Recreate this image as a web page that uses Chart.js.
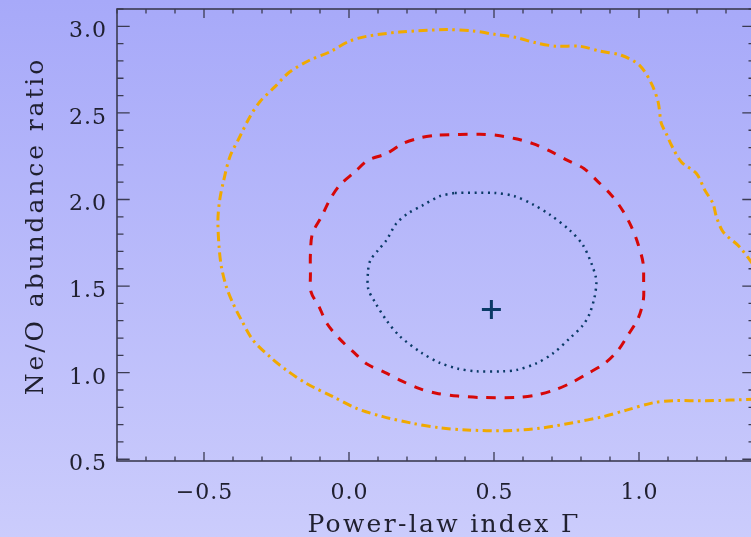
<!DOCTYPE html>
<html><head><meta charset="utf-8">
<script src="https://cdn.jsdelivr.net/npm/chart.js@4/dist/chart.umd.min.js"></script>
<style>
html,body{margin:0;padding:0;width:751px;height:537px;overflow:hidden;background:#b8b9fa;}
#wrap{width:760px;height:537px;}
canvas{display:block;}
</style></head><body>
<div id="wrap"><canvas id="c" width="760" height="537"></canvas></div>
<script>
// ---- axis ticks / labels ----
const xTickValues = [-0.5, 0.0, 0.5, 1.0];
const xTickLabels = ['\u22120.5', '0.0', '0.5', '1.0'];
const yTickValues = [0.5, 1.0, 1.5, 2.0, 2.5, 3.0];
const yTickLabels = ['0.5', '1.0', '1.5', '2.0', '2.5', '3.0'];
const xTitle = 'Power-law index \u0393';
const yTitle = 'Ne/O abundance ratio';

// ---- inner contour (dotted) ----
const innerGamma = [0.365,0.502,0.571,0.635,0.692,0.761,0.807,0.836,0.851,0.853,0.847,0.830,0.807,0.761,0.703,0.646,0.577,0.531,0.439,0.376,0.313,0.250,0.175,0.129,0.089,0.066,0.066,0.074,0.100,0.129,0.163,0.203,0.255,0.313,0.365];
const innerNeO   = [2.038,2.038,2.019,1.971,1.913,1.823,1.736,1.631,1.553,1.515,1.438,1.342,1.275,1.198,1.111,1.054,1.015,1.008,1.008,1.023,1.057,1.115,1.211,1.303,1.409,1.486,1.592,1.650,1.707,1.765,1.861,1.919,1.967,2.019,2.038];

// ---- middle contour (dashed) ----
const middleGamma = [0.313,0.451,0.508,0.571,0.634,0.694,0.752,0.810,0.859,0.905,0.943,0.974,0.997,1.014,1.016,1.015,0.997,0.962,0.928,0.882,0.824,0.767,0.709,0.646,0.577,0.451,0.376,0.301,0.241,0.181,0.123,0.062,0.014,-0.034,-0.076,-0.103,-0.131,-0.133,-0.133,-0.126,-0.095,-0.067,-0.032,0.020,0.066,0.129,0.186,0.250,0.313];
const middleNeO   = [2.373,2.377,2.371,2.352,2.323,2.279,2.227,2.179,2.102,2.025,1.938,1.842,1.742,1.634,1.525,1.419,1.313,1.217,1.130,1.054,0.996,0.942,0.900,0.871,0.857,0.857,0.865,0.881,0.909,0.953,1.002,1.050,1.121,1.198,1.284,1.380,1.467,1.573,1.688,1.804,1.900,1.996,2.083,2.159,2.227,2.265,2.323,2.358,2.373];

// ---- outer contour (dash-dot) ----
const outerGamma = [1.40,1.232,1.117,1.048,0.957,0.876,0.772,0.658,0.543,0.405,0.313,0.221,0.117,0.026,-0.055,-0.147,-0.216,-0.273,-0.331,-0.371,-0.400,-0.423,-0.440,-0.448,-0.452,-0.446,-0.432,-0.411,-0.377,-0.342,-0.308,-0.256,-0.205,-0.136,-0.067,0.002,0.060,0.175,0.336,0.428,0.502,0.577,0.646,0.715,0.796,0.864,0.939,1.002,1.043,1.066,1.077,1.094,1.112,1.146,1.198,1.227,1.255,1.267,1.290,1.347,1.40];
const outerNeO   = [0.846,0.838,0.838,0.826,0.784,0.746,0.711,0.679,0.665,0.669,0.682,0.707,0.746,0.794,0.861,0.938,1.015,1.092,1.188,1.304,1.400,1.496,1.611,1.726,1.881,1.996,2.111,2.246,2.361,2.477,2.563,2.650,2.736,2.804,2.852,2.915,2.942,2.967,2.981,2.973,2.954,2.935,2.904,2.885,2.885,2.857,2.833,2.775,2.669,2.563,2.439,2.381,2.313,2.217,2.150,2.054,1.977,1.900,1.813,1.726,1.610];

// ---- best fit ----
const bestGamma = [0.491];
const bestNeO = [1.365];

const pts = (xs, ys) => xs.map((x, i) => ({x: x, y: ys[i]}));

const FONT = '"DejaVu Serif", serif';
const AXIS_COLOR = '#3b3b52';
const TEXT_COLOR = '#202030';

const bgPlugin = {
  id: 'bg',
  beforeDraw(chart) {
    const c = chart.ctx;
    const g = c.createLinearGradient(0, 0, 0, chart.height);
    g.addColorStop(0, '#a7a9f9');
    g.addColorStop(1, '#cbccfc');
    c.save();
    c.fillStyle = g;
    c.fillRect(0, 0, chart.width, chart.height);
    c.restore();
  }
};

function minorValues(min, max, step) {
  const out = [];
  const s = Math.ceil(min / step - 1e-9);
  for (let k = s; k * step <= max + 1e-9; k++) out.push(+(k * step).toFixed(6));
  return out;
}

const axesPlugin = {
  id: 'axes',
  afterDraw(chart) {
    const c = chart.ctx;
    const xs = chart.scales.x, ys = chart.scales.y;
    const a = chart.chartArea;
    c.save();
    c.strokeStyle = AXIS_COLOR;
    c.lineWidth = 1.6;
    c.strokeRect(a.left, a.top, a.right - a.left, a.bottom - a.top);
    c.lineWidth = 1.3;
    const xMaj = 9, xMin = 4.5, yMaj = 12.7, yMin = 6.5;
    c.beginPath();
    minorValues(xs.min, xs.max, 0.1).forEach(v => {
      const major = xTickValues.some(t => Math.abs(t - v) < 1e-6);
      const L = major ? xMaj : xMin;
      const p = xs.getPixelForValue(v);
      c.moveTo(p, a.bottom); c.lineTo(p, a.bottom - L);
      c.moveTo(p, a.top); c.lineTo(p, a.top + L);
    });
    minorValues(ys.min, ys.max, 0.1).forEach(v => {
      const major = yTickValues.some(t => Math.abs(t - v) < 1e-6);
      const L = major ? yMaj : yMin;
      const p = ys.getPixelForValue(v);
      c.moveTo(a.left, p); c.lineTo(a.left + L, p);
      c.moveTo(a.right, p); c.lineTo(a.right - L, p);
    });
    c.stroke();

    c.fillStyle = TEXT_COLOR;
    c.font = '22px ' + FONT;
    c.letterSpacing = '1px';
    c.textBaseline = 'alphabetic';
    c.textAlign = 'center';
    xTickValues.forEach((v, i) => {
      c.fillText(xTickLabels[i], xs.getPixelForValue(v) + 0.5, a.bottom + 38);
    });
    c.textAlign = 'right';
    yTickValues.forEach((v, i) => {
      c.fillText(yTickLabels[i], a.left - 10, ys.getPixelForValue(v) + 11);
    });

    c.font = '25px ' + FONT;
    c.letterSpacing = '2.3px';
    c.textAlign = 'center';
    c.fillText(xTitle, 444, 531.5);

    c.save();
    c.translate(43, 226);
    c.rotate(-Math.PI / 2);
    c.letterSpacing = '2.9px';
    c.fillText(yTitle, 0, 0);
    c.restore();
    c.restore();
  }
};

new Chart(document.getElementById('c'), {
  type: 'scatter',
  data: {
    datasets: [
      { data: pts(outerGamma, outerNeO), showLine: true, borderColor: '#f0a900', borderWidth: 3,
        borderDash: [9, 4.5, 2.5, 4.5], pointRadius: 0, tension: 0.3, fill: false },
      { data: pts(middleGamma, middleNeO), showLine: true, borderColor: '#d60808', borderWidth: 3,
        borderDash: [9.5, 8.8], pointRadius: 0, tension: 0.3, fill: false },
      { data: pts(innerGamma, innerNeO), showLine: true, borderColor: '#0b3a66', borderWidth: 2.5,
        borderDash: [2, 4.6], pointRadius: 0, tension: 0.3, fill: false },
      { data: pts(bestGamma, bestNeO), showLine: false, pointStyle: 'cross', pointRadius: 9.5,
        borderColor: '#0b3a66', backgroundColor: '#0b3a66', pointBorderWidth: 3, borderWidth: 3 }
    ]
  },
  options: {
    responsive: false,
    animation: false,
    devicePixelRatio: 1,
    layout: { autoPadding: false, padding: { top: 9, right: 5, left: 0, bottom: 0 } },
    plugins: { legend: { display: false }, tooltip: { enabled: false } },
    scales: {
      x: { type: 'linear', min: -0.8, max: 1.4,
           grid: { display: false, drawTicks: false }, border: { display: false },
           ticks: { display: false }, afterFit: s => { s.height = 76; } },
      y: { type: 'linear', min: 0.49, max: 3.1,
           grid: { display: false, drawTicks: false }, border: { display: false },
           ticks: { display: false }, afterFit: s => { s.width = 117; } }
    }
  },
  plugins: [bgPlugin, axesPlugin]
});
</script>
</body></html>
